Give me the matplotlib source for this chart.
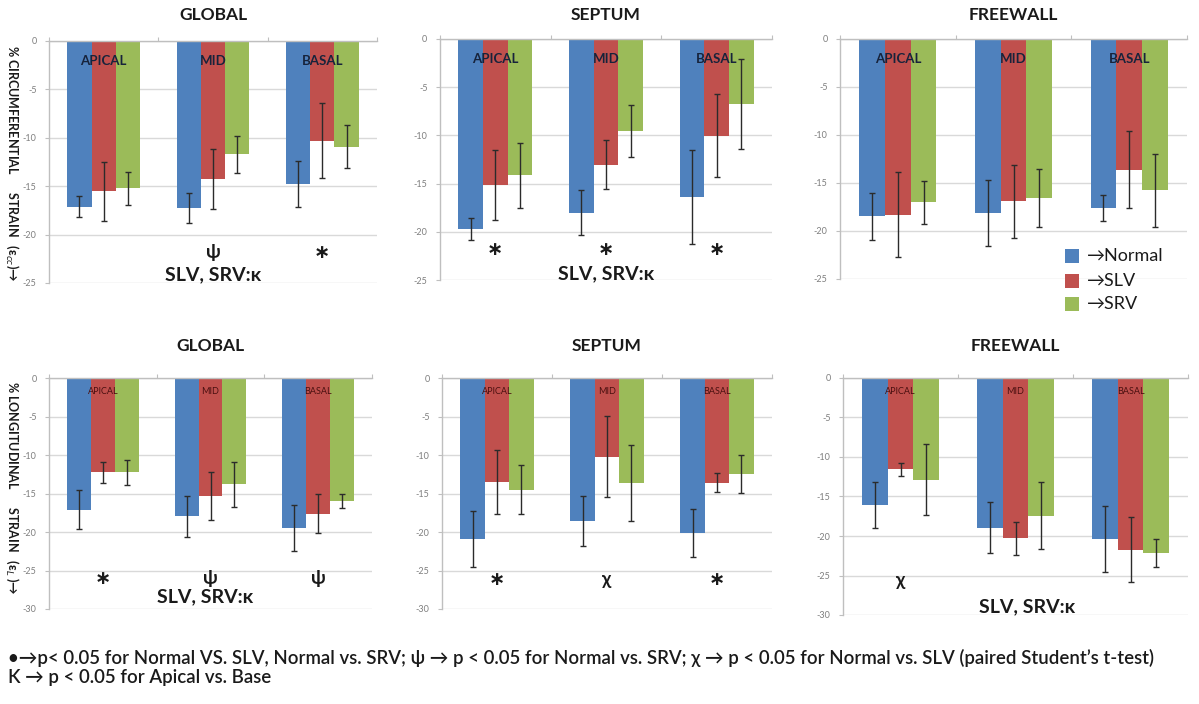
import matplotlib
matplotlib.use("Agg")
import matplotlib.pyplot as plt
from matplotlib.patches import Rectangle
import numpy as np

plt.rcParams['font.family'] = ['Lato', 'DejaVu Sans']
plt.rcParams['mathtext.fontset'] = 'dejavusans'

# ---------------- data ----------------
segments = ["APICAL", "MID", "BASAL"]
groups = ["Normal", "SLV", "SRV"]
colors = ["#4F81BD", "#C0504D", "#9BBB59"]

# rows: Normal, SLV, SRV ; columns: APICAL, MID, BASAL
circ_global_mean = [[-17.1, -17.25, -14.8], [-15.5, -14.25, -10.3], [-15.2, -11.7, -10.9]]
circ_global_err = [[1.1, 1.5, 2.4], [3.05, 3.1, 3.85], [1.7, 1.9, 2.25]]

circ_septum_mean = [[-19.7, -18.0, -16.4], [-15.15, -13.05, -10.05], [-14.15, -9.5, -6.75]]
circ_septum_err = [[1.1, 2.3, 4.9], [3.6, 2.55, 4.3], [3.35, 2.7, 4.65]]

circ_free_mean = [[-18.45, -18.1, -17.65], [-18.3, -16.9, -13.6], [-17.0, -16.55, -15.75]]
circ_free_err = [[2.45, 3.45, 1.35], [4.4, 3.8, 4.05], [2.25, 3.05, 3.8]]

long_global_mean = [[-17.1, -17.95, -19.5], [-12.25, -15.3, -17.6], [-12.25, -13.8, -15.95]]
long_global_err = [[2.5, 2.65, 3.0], [1.35, 3.1, 2.55], [1.6, 2.9, 0.95]]

long_septum_mean = [[-20.9, -18.55, -20.15], [-13.55, -10.2, -13.6], [-14.5, -13.65, -12.45]]
long_septum_err = [[3.65, 3.25, 3.1], [4.15, 5.3, 1.2], [3.15, 4.95, 2.5]]

long_free_mean = [[-16.1, -18.95, -20.35], [-11.55, -20.3, -21.75], [-12.85, -17.45, -22.15]]
long_free_err = [[2.95, 3.25, 4.2], [0.8, 2.1, 4.1], [4.5, 4.25, 1.75]]

titles = ["GLOBAL", "SEPTUM", "FREEWALL"]

# significance marks per segment (APICAL, MID, BASAL)
circ_global_sig = ["", "ψ", "*"]
circ_septum_sig = ["*", "*", "*"]
circ_free_sig = ["", "", ""]
long_global_sig = ["*", "ψ", "ψ"]
long_septum_sig = ["*", "χ", "*"]
long_free_sig = ["χ", "", ""]

kappa_text = "SLV, SRV:κ"

footer1 = "•→p< 0.05 for Normal VS. SLV, Normal vs. SRV; ψ → p < 0.05 for Normal vs. SRV; χ → p < 0.05 for Normal vs. SLV (paired Student’s t-test)"
footer2 = "K → p < 0.05 for Apical vs. Base"

# ---------------- figure ----------------
W, H = 1199, 704
fig = plt.figure(figsize=(W / 100, H / 100), dpi=100)


def px_axes(x0, y0, x1, y1):
    return fig.add_axes([x0 / W, 1 - y1 / H, (x1 - x0) / W, (y1 - y0) / H])


panels = [
    dict(box=(49, 41, 377, 283), mean=circ_global_mean, err=circ_global_err, sig=circ_global_sig,
         ymin=-25, title=0, bold_lbl=True, sig_y=-21.9, kappa=(1.0, -24.1)),
    dict(box=(440, 39, 772, 280), mean=circ_septum_mean, err=circ_septum_err, sig=circ_septum_sig,
         ymin=-25, title=1, bold_lbl=True, sig_y=-21.8, kappa=(1.0, -24.3)),
    dict(box=(840, 39, 1187, 279), mean=circ_free_mean, err=circ_free_err, sig=circ_free_sig,
         ymin=-25, title=2, bold_lbl=True, sig_y=-21.8, kappa=None),
    dict(box=(49, 378, 372, 609), mean=long_global_mean, err=long_global_err, sig=long_global_sig,
         ymin=-30, title=0, bold_lbl=False, sig_y=-26.0, kappa=(0.95, -28.4)),
    dict(box=(442, 378, 772, 609), mean=long_septum_mean, err=long_septum_err, sig=long_septum_sig,
         ymin=-30, title=1, bold_lbl=False, sig_y=-26.2, kappa=None),
    dict(box=(843, 378, 1188, 615), mean=long_free_mean, err=long_free_err, sig=long_free_sig,
         ymin=-30, title=2, bold_lbl=False, sig_y=-25.6, kappa=(1.1, -28.9)),
]

bw = 0.222
x = np.arange(len(segments))

for p in panels:
    ax = px_axes(*p['box'])
    for gi in range(3):
        ax.bar(x + (gi - 1) * bw, p['mean'][gi], width=bw, color=colors[gi],
               edgecolor='none', zorder=2)
        ax.errorbar(x + (gi - 1) * bw, p['mean'][gi], yerr=p['err'][gi], fmt='none',
                    ecolor='#2b2b2b', elinewidth=1.0, capsize=2, capthick=1.0, zorder=3)
    ax.set_xlim(-0.5, 2.5)
    ax.set_ylim(p['ymin'], 0)
    ax.set_yticks(np.arange(p['ymin'], 1, 5))
    ax.set_yticklabels([str(v) for v in np.arange(p['ymin'], 1, 5)])
    ax.yaxis.grid(True, color='#d9d9d9', linewidth=1.0, zorder=0)
    ax.set_axisbelow(True)
    ax.tick_params(axis='y', labelsize=6.5, labelcolor='#7f7f7f', color='#bfbfbf',
                   length=3, width=0.8, pad=6)
    ax.xaxis.tick_top()
    ax.set_xticks([-0.5, 0.5, 1.5, 2.5])
    ax.set_xticklabels([])
    ax.tick_params(axis='x', color='#bfbfbf', length=3, width=0.8)
    for s in ['right', 'bottom']:
        ax.spines[s].set_visible(False)
    ax.spines['left'].set_color('#bfbfbf')
    ax.spines['top'].set_color('#bfbfbf')
    ax.spines['left'].set_linewidth(1.0)
    ax.spines['top'].set_linewidth(1.0)

    for si, seg in enumerate(segments):
        if p['bold_lbl']:
            ax.text(x[si], -2.1, seg, ha='center', va='center', fontsize=9.5,
                    fontweight='bold', color='#17233b', zorder=4)
        else:
            ax.text(x[si], -1.7, seg, ha='center', va='center', fontsize=6.5,
                    color='#4a1010', zorder=4)
        mark = p['sig'][si]
        if mark:
            if mark == "*":
                ax.text(x[si], p['sig_y'], "∗", ha='center', va='center',
                        fontsize=14, fontweight='bold', family='DejaVu Sans',
                        color='#1a1a1a')
            else:
                ax.text(x[si], p['sig_y'], mark, ha='center', va='center',
                        fontsize=13.5, fontweight='bold', color='#1a1a1a')
    if p['kappa'] is not None:
        ax.text(p['kappa'][0], p['kappa'][1], kappa_text, ha='center', va='center',
                fontsize=14, fontweight='bold', color='#1a1a1a')

    x0, y0, x1, y1 = p['box']
    fig.text((x0 + x1) / 2 / W, 1 - (15 if y0 < 100 else 346) / H, titles[p['title']],
             ha='center', va='center', fontsize=12.5, fontweight='bold', color='#1a1a1a')

# y-axis labels
fig.text(12 / W, 1 - 163 / H, "% CIRCUMFERENTIAL      STRAIN   (ε$_{cc}$)→",
         rotation=270, ha='center', va='center', fontsize=9, fontweight='bold', color='#1a1a1a')
fig.text(12 / W, 1 - 488 / H, "% LONGITUDINAL      STRAIN   (ε$_{L}$ )→",
         rotation=270, ha='center', va='center', fontsize=9, fontweight='bold', color='#1a1a1a')

# legend
leg_rows = [256, 281, 304]
for gi, name in enumerate(groups):
    yc = leg_rows[gi]
    fig.patches.append(Rectangle((1065 / W, 1 - (yc + 7) / H), 14 / W, 14 / H,
                                 transform=fig.transFigure, facecolor=colors[gi],
                                 edgecolor='none'))
    fig.text(1087 / W, 1 - yc / H, "→" + name, ha='left', va='center', fontsize=13,
             color='#1a1a1a')

# footer
fig.text(8 / W, 1 - 658 / H, footer1, ha='left', va='center', fontsize=13.4,
         fontweight='semibold', color='#1a1a1a')
fig.text(8 / W, 1 - 678 / H, footer2, ha='left', va='center', fontsize=13.4,
         fontweight='semibold', color='#1a1a1a')

fig.savefig("out.png", dpi=100)
